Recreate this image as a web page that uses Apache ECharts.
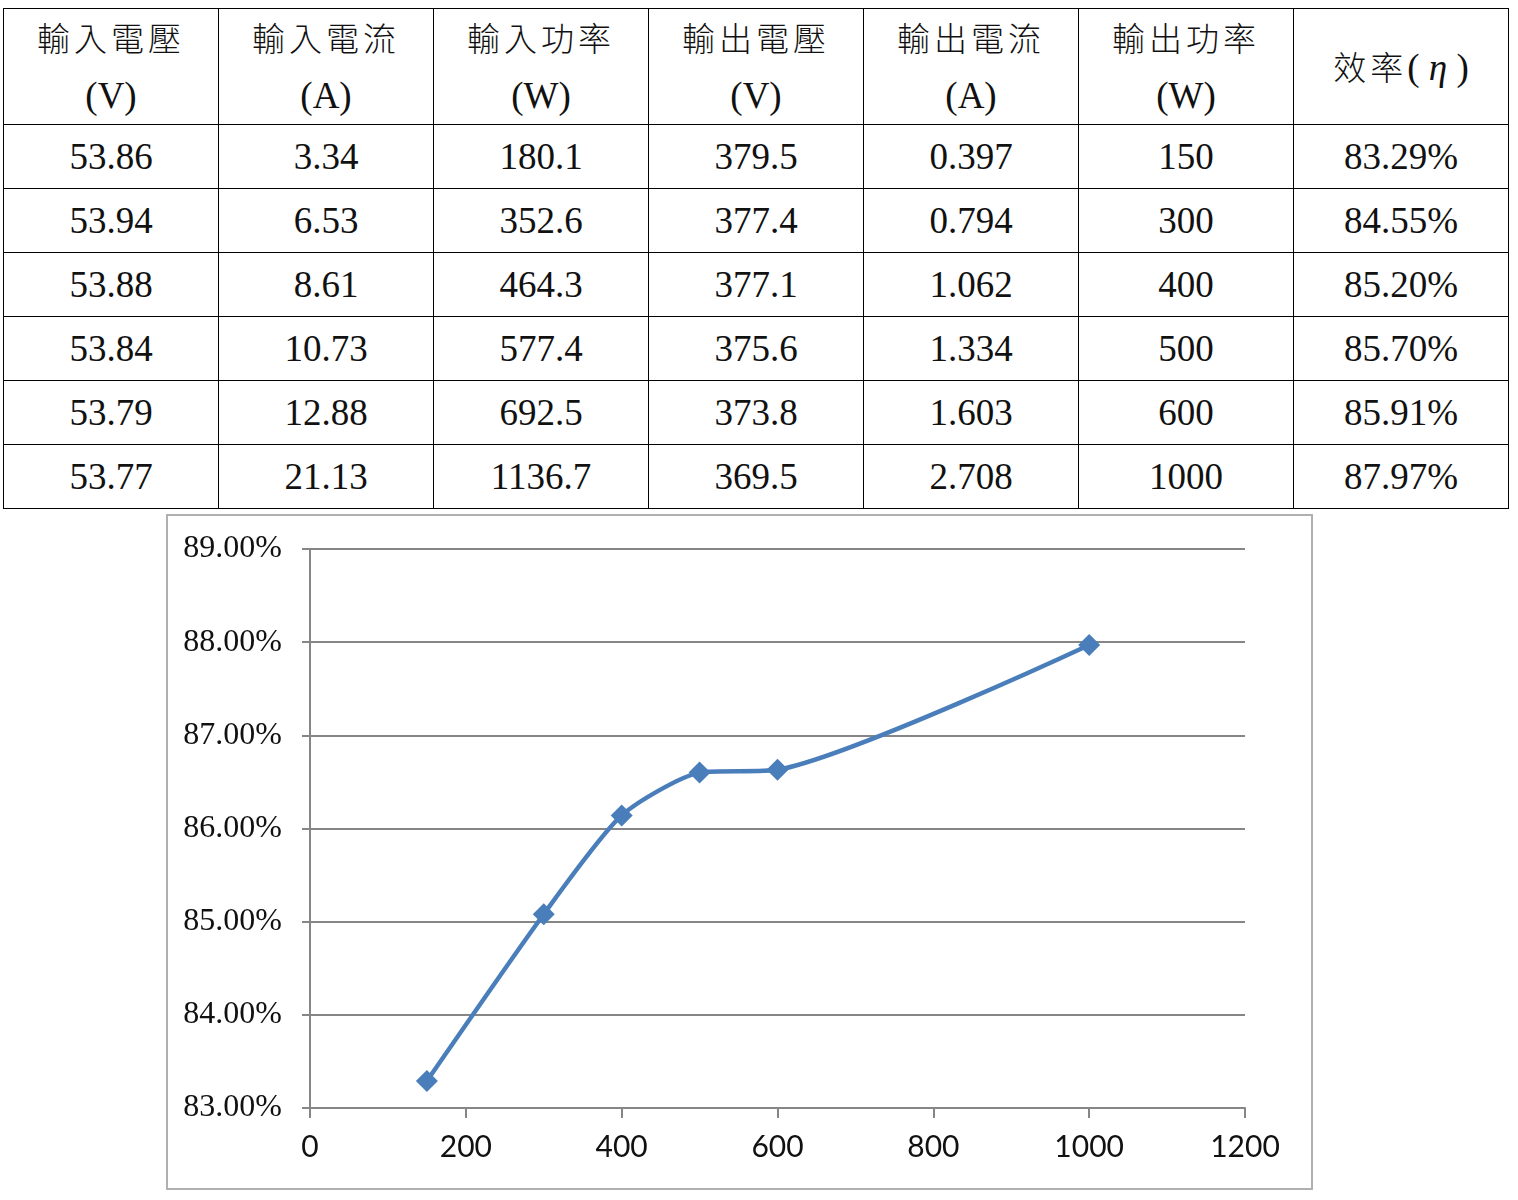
<!DOCTYPE html>
<html><head><meta charset="utf-8">
<script src="https://cdn.jsdelivr.net/npm/echarts@6/dist/echarts.min.js"></script>
<style>
html,body{margin:0;padding:0;background:#fff;width:1518px;height:1200px;overflow:hidden;}
#tbl{position:absolute;left:3px;top:8px;border-collapse:collapse;table-layout:fixed;width:1506px;}
#tbl td{border:1.5px solid #000;text-align:center;vertical-align:middle;padding:0;
 font-family:"Liberation Serif",serif;font-size:37px;color:#111;height:63px;}
#tbl tr.h td{height:111px;line-height:57px;}
.cj{font-family:"Noto Sans CJK TC",sans-serif;font-weight:300;font-size:33px;letter-spacing:4px;}
#chart{position:absolute;left:166px;top:514px;width:1147px;height:676px;box-sizing:border-box;border:2px solid #b0b0b0;}
</style></head>
<body>
<table id="tbl"></table>
<div id="chart"></div>
<script>
const headersCJK = ["輸入電壓","輸入電流","輸入功率","輸出電壓","輸出電流","輸出功率","效率"];
const headersUnit = ["(V)","(A)","(W)","(V)","(A)","(W)","(η)"];
const inV  = ["53.86","53.94","53.88","53.84","53.79","53.77"];
const inA  = ["3.34","6.53","8.61","10.73","12.88","21.13"];
const inW  = ["180.1","352.6","464.3","577.4","692.5","1136.7"];
const outV = ["379.5","377.4","377.1","375.6","373.8","369.5"];
const outA = ["0.397","0.794","1.062","1.334","1.603","2.708"];
const outW = ["150","300","400","500","600","1000"];
const eff  = ["83.29%","84.55%","85.20%","85.70%","85.91%","87.97%"];

// chart values as plotted in the figure
const chartX = [150,300,400,500,600,1000];
const chartY = [83.29,85.08,86.14,86.60,86.63,87.97];

const tbl = document.getElementById('tbl');
let html = '<colgroup>'+'<col style="width:215px">'.repeat(7)+'</colgroup><tr class="h">';
for (let i=0;i<headersCJK.length;i++){
  if (i===6) html += '<td><span class="cj">效率</span>( <i>η</i> )</td>';
  else html += '<td><span class="cj">'+headersCJK[i]+'</span><br>'+headersUnit[i]+'</td>';
}
html += '</tr>';
const cols=[inV,inA,inW,outV,outA,outW,eff];
for (let r=0;r<inV.length;r++){
  html+='<tr>';
  for (const c of cols) html+='<td>'+c[r]+'</td>';
  html+='</tr>';
}
tbl.innerHTML=html;

const chart = echarts.init(document.getElementById('chart'));
chart.setOption({
  animation:false,
  grid:{left:142,right:66,top:33,bottom:80},
  xAxis:{type:'value',min:0,max:1200,interval:200,
    axisLine:{show:true,lineStyle:{color:'#868686',width:2}},
    axisTick:{show:true,length:10,lineStyle:{color:'#868686',width:2}},
    splitLine:{show:false},
    axisLabel:{margin:24,fontFamily:'Lato',fontSize:30,color:'#111',formatter:v=>String(v)}},
  yAxis:{type:'value',min:83,max:89,interval:1,
    axisLine:{show:true,lineStyle:{color:'#868686',width:2}},
    axisTick:{show:true,length:8,lineStyle:{color:'#868686',width:2}},
    splitLine:{show:true,lineStyle:{color:'#868686',width:2}},
    axisLabel:{margin:28,fontFamily:'Liberation Serif',fontSize:32,color:'#111',
      formatter:v=>v.toFixed(2)+'%'}},
  series:[{type:'line',data:chartX.map((x,i)=>[x,chartY[i]]),smooth:0.22,
    symbol:'diamond',symbolSize:22,
    lineStyle:{color:'#4a7ebb',width:4.5},
    itemStyle:{color:'#4a7ebb'}}]
});
</script>
</body></html>
